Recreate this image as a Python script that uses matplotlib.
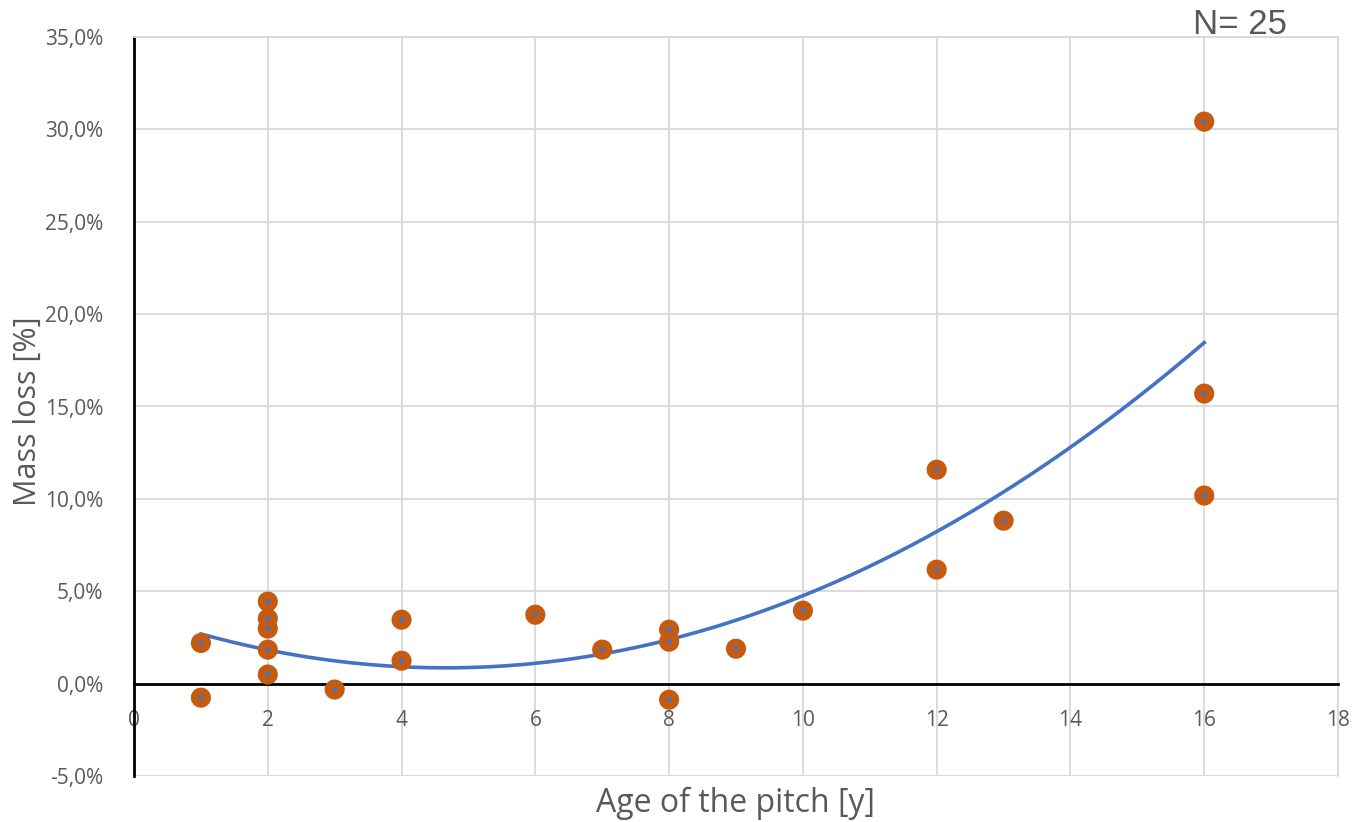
import matplotlib
matplotlib.use("Agg")
import matplotlib.pyplot as plt
import numpy as np
from matplotlib.ticker import FuncFormatter, MultipleLocator

# Data (age in years, mass loss in %)
age = [1, 1, 2, 2, 2, 2, 2, 3, 4, 4, 6, 7, 8, 8, 8, 9, 10, 12, 12, 13, 16, 16, 16]
mass_loss = [2.2, -0.76, 4.44, 3.52, 2.98, 1.84, 0.49, -0.32, 3.46, 1.24, 3.73, 1.84,
             2.92, 2.27, -0.87, 1.89, 3.95, 11.58, 6.17, 8.82, 30.42, 15.70, 10.18]
# 2nd-order polynomial trendline coefficients (a*x^2 + b*x + c)
trend_coef = [0.1369, -1.2763, 3.829]
trend_range = [1, 16]
n_label = "N= 25"

plt.rcParams['font.family'] = ['Open Sans', 'DejaVu Sans']
fig = plt.figure(figsize=(13.67, 8.22), dpi=100)
ax = fig.add_axes([134/1367, 1-776/822, (1338-134)/1367, (776-37)/822])

gray = '#595959'
grid = '#D9D9D9'

ax.set_xlim(0, 18)
ax.set_ylim(-5, 35)
ax.xaxis.set_major_locator(MultipleLocator(2))
ax.yaxis.set_major_locator(MultipleLocator(5))
ax.grid(True, color=grid, linewidth=1.3, zorder=0)
ax.set_axisbelow(True)

for s in ['top', 'right']:
    ax.spines[s].set_color(grid)
    ax.spines[s].set_linewidth(1.3)
ax.spines['bottom'].set_position(('data', 0))
ax.spines['bottom'].set_color('black')
ax.spines['bottom'].set_linewidth(2)
ax.spines['left'].set_color('black')
ax.spines['left'].set_linewidth(2)
# bottom gridline at -5%
ax.axhline(-5, color=grid, linewidth=1.3, zorder=0)

ax.tick_params(length=0, labelsize=15, labelcolor=gray)
ax.tick_params(axis='x', pad=19)
ax.tick_params(axis='y', pad=22)
ax.yaxis.set_major_formatter(FuncFormatter(lambda v, p: f"{v:.1f}%".replace('.', ',')))
ax.xaxis.set_major_formatter(FuncFormatter(lambda v, p: f"{int(v)}"))

xs = np.linspace(trend_range[0], trend_range[1], 200)
ax.plot(xs, np.polyval(trend_coef, xs), color='#4472C4', linewidth=2.6, zorder=3)

ax.scatter(age, mass_loss, s=210, color='#C55A11', edgecolors='none', zorder=4)
ax.scatter(age, mass_loss, s=12, color='#4472C4', edgecolors='none', zorder=5)

ax.set_xlabel("Age of the pitch [y]", fontsize=23, color=gray)
ax.xaxis.set_label_coords(0.5, (776-803)/739)
ax.xaxis.label.set_va('center')
ax.set_ylabel("Mass loss [%]", fontsize=22, color=gray)
ax.yaxis.set_label_coords((28-134)/1204, (776-411)/739)
ax.yaxis.label.set_va('center')

fig.text(1240/1367, 1-24/822, n_label, fontsize=25, color=gray, ha='center', va='center',
         family=['Liberation Sans', 'DejaVu Sans'])

fig.savefig("out.png", dpi=100)
